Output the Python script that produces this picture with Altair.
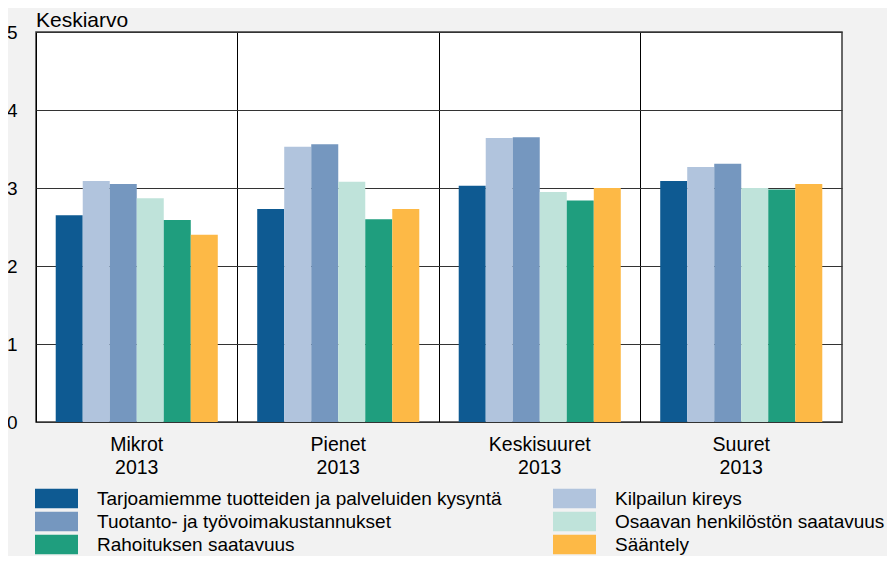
import altair as alt
import pandas as pd

groups = ["Mikrot", "Pienet", "Keskisuuret", "Suuret"]
year = "2013"
series = [
    "Tarjoamiemme tuotteiden ja palveluiden kysyntä",
    "Kilpailun kireys",
    "Tuotanto- ja työvoimakustannukset",
    "Osaavan henkilöstön saatavuus",
    "Rahoituksen saatavuus",
    "Sääntely",
]
colors = ["#0e5a92", "#b1c4dd", "#7597bf", "#bfe3da", "#1f9e7e", "#fdb946"]

v_kysynta = [2.65, 2.73, 3.03, 3.09]
v_kilpailu = [3.09, 3.53, 3.64, 3.27]
v_kustannus = [3.05, 3.56, 3.65, 3.31]
v_osaava = [2.87, 3.08, 2.95, 3.00]
v_rahoitus = [2.59, 2.60, 2.84, 2.98]
v_saantely = [2.40, 2.73, 3.00, 3.05]
all_values = [v_kysynta, v_kilpailu, v_kustannus, v_osaava, v_rahoitus, v_saantely]

rows = []
for s, vals in zip(series, all_values):
    for g, v in zip(groups, vals):
        rows.append({"ryhma": g, "sarja": s, "arvo": v})
df = pd.DataFrame(rows)

# legend is filled column by column: left column first, then right column
legend_order = [series[0], series[2], series[4], series[1], series[3], series[5]]
legend_colors = [colors[series.index(s)] for s in legend_order]

W, H = 806, 390
FONT = "Liberation Sans"

chart = alt.Chart(df).mark_bar().encode(
    x=alt.X(
        "ryhma:N",
        sort=groups,
        scale=alt.Scale(paddingInner=0, paddingOuter=0),
        axis=alt.Axis(
            title=None,
            labelAngle=0,
            labelExpr=f"[datum.label, '{year}']",
            labelFont=FONT,
            labelFontSize=19.5,
            labelColor="#000000",
            labelLineHeight=23,
            labelPadding=13,
            ticks=False,
            domain=False,
            grid=True,
            gridColor="#000000",
            gridWidth=1,
            bandPosition=0,
        ),
    ),
    xOffset=alt.XOffset(
        "sarja:N",
        sort=series,
        scale=alt.Scale(paddingInner=0, paddingOuter=0.73),
    ),
    y=alt.Y(
        "arvo:Q",
        scale=alt.Scale(domain=[0, 5], nice=False),
        axis=alt.Axis(
            title=None,
            values=[0, 1, 2, 3, 4, 5],
            labelFont=FONT,
            labelFontSize=19,
            labelColor="#000000",
            labelPadding=19,
            ticks=False,
            domain=False,
            grid=True,
            gridColor="#333333",
            gridWidth=1,
        ),
    ),
    color=alt.Color(
        "sarja:N",
        scale=alt.Scale(domain=legend_order, range=legend_colors),
        legend=alt.Legend(
            title=None,
            orient="none",
            legendX=-1,
            legendY=455,
            columns=2,
            columnPadding=51,
            rowPadding=0,
            clipHeight=23,
            padding=0,
            symbolType="M-1,-0.45H1V0.45H-1Z",
            symbolSize=1849,
            symbolStrokeWidth=0,
            symbolOpacity=1,
            labelFont=FONT,
            labelFontSize=19,
            labelColor="#000000",
            labelOffset=19,
            labelLimit=600,
        ),
    ),
).properties(
    width=W,
    height=H,
    title=alt.TitleParams(
        "Keskiarvo",
        anchor="start",
        frame="group",
        font=FONT,
        fontSize=21,
        fontWeight="normal",
        color="#000000",
        offset=-8,
    ),
    autosize=alt.AutoSizeParams(type="none"),
    padding={"left": 28, "top": 24, "right": 45, "bottom": 134},
).configure(
    background="#f2f2f2",
).configure_view(
    fill="#ffffff",
    stroke="#3a3a3a",
    strokeWidth=1.5,
)

chart.save("out.html", embed_options={"renderer": "svg", "actions": False})
